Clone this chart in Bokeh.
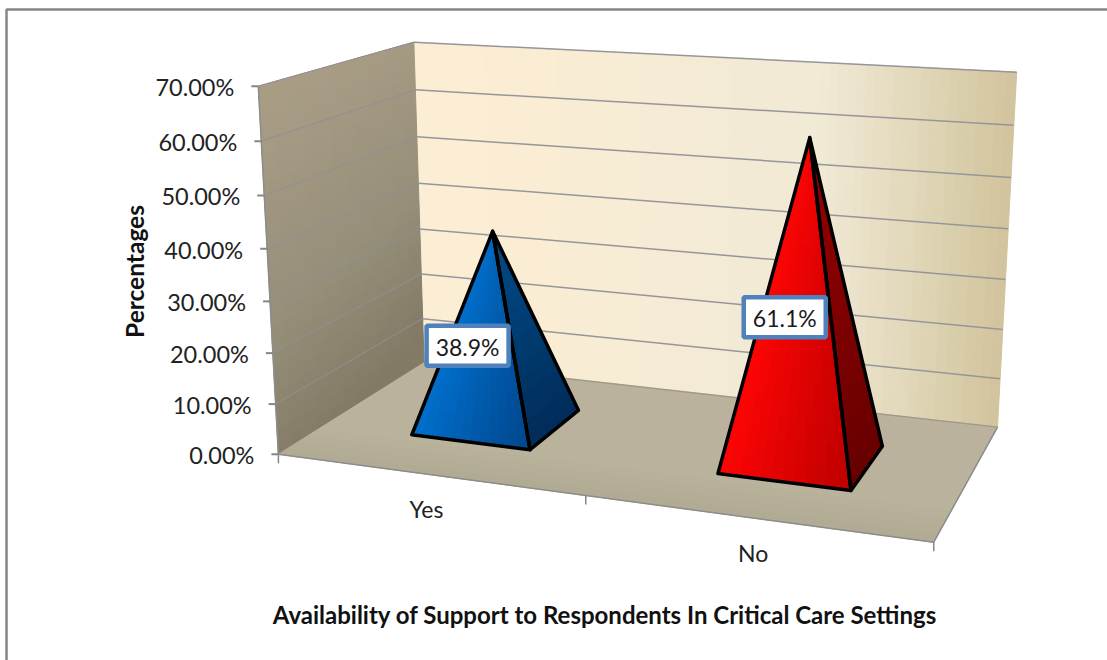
import numpy as np
from bokeh.core.properties import value
from bokeh.embed import file_html
from bokeh.plotting import figure
from bokeh.resources import INLINE

categories = ["Yes", "No"]
shares = [38.9, 61.1]
share_labels = ["38.9%", "61.1%"]
tick_values = [0, 10, 20, 30, 40, 50, 60, 70]
tick_labels = ["0.00%", "10.00%", "20.00%", "30.00%", "40.00%", "50.00%", "60.00%", "70.00%"]
y_title = "Percentages"
x_title = "Availability of Support to Respondents In Critical Care Settings"

# Camera calibration: (category position, depth, value) -> page position.
CAMERA = [
    (0, 0, 0, 278, 453), (0, 0, 30, 270, 302), (0, 0, 70, 257, 85), (1, 0, 0, 585.5, 495),
    (2, 0, 0, 933, 542), (0, 1, 0, 423, 362), (0, 1, 30, 419, 229), (0, 1, 70, 413.6, 41.7),
    (2, 1, 0, 997, 427), (2, 1, 30, 1005.4, 278), (2, 1, 70, 1015.7, 72),
    (0, 0, 50, 264, 195), (0, 1, 50, 417, 136), (2, 1, 50, 1010.7, 177),
]


def fit_camera(rows):
    eqs = []
    for x, d, v, px, py in rows:
        q = [x / 2, d, v / 70, 1]
        u, w = px / 1000, py / 1000
        eqs.append(q + [0, 0, 0, 0] + [-u * c for c in q])
        eqs.append([0, 0, 0, 0] + q + [-w * c for c in q])
    return np.linalg.svd(np.array(eqs))[2][-1].reshape(3, 4)


M = fit_camera(CAMERA)


def proj(x, d, v):
    a, b, c = M @ np.array([x / 2, d, v / 70, 1])
    return 1000 * a / c, 1000 * b / c


def mix(stops, t):
    t = min(max(t, 0), 1)
    pos = [s[0] for s in stops]
    r, g, b = (np.interp(t, pos, [s[1][i] for s in stops]) for i in range(3))
    return f"#{int(r):02x}{int(g):02x}{int(b):02x}"


p = figure(width=1107, height=660, x_range=(0, 1107), y_range=(660, 0),
           x_axis_type=None, y_axis_type=None, toolbar_location=None,
           output_backend="svg", min_border=0, outline_line_color=None)
p.grid.visible = False


def shade(a, b, c, e, nu, nw, colour):
    """Fill the quad a-b-c-e (3D corners) with small cells coloured by colour(u, w)."""
    a, b, c, e = map(np.array, (a, b, c, e))
    xs, ys, cs = [], [], []
    for i in range(nu):
        for j in range(nw):
            u0, u1 = i / nu, (i + 1) / nu
            w0, w1 = j / nw, (j + 1) / nw
            pts = [(u0, w0), (u1, w0), (u1, w1), (u0, w1)]
            cell = [proj(*((1 - w) * ((1 - u) * a + u * b) + w * ((1 - u) * e + u * c))) for u, w in pts]
            xs.append([q[0] for q in cell])
            ys.append([q[1] for q in cell])
            cs.append(colour((u0 + u1) / 2, (w0 + w1) / 2))
    p.patches(xs, ys, fill_color=cs, line_color=cs, line_width=1)


def edge(q0, q1, color="#8c8c8c", width=1.5):
    a, b = proj(*q0), proj(*q1)
    p.line([a[0], b[0]], [a[1], b[1]], line_color=color, line_width=width)


# Outer chart frame
p.line([6, 6, 1107], [660, 9, 9], line_color="#868686", line_width=2.5)

# Back wall, side wall, floor
wall = [(0, (253, 239, 212)), (0.25, (250, 237, 212)), (0.7, (241, 234, 214)),
        (0.85, (226, 216, 186)), (1, (209, 195, 157))]
shade((0, 1, 0), (2, 1, 0), (2, 1, 70), (0, 1, 70), 70, 1, lambda u, w: mix(wall, u))
side = [(0, (130, 122, 100)), (0.45, (150, 143, 122)), (1, (168, 156, 133))]
shade((0, 0, 0), (0, 1, 0), (0, 1, 70), (0, 0, 70), 12, 28,
      lambda u, w: mix(side, w + 0.18 * (0.5 - u)))
ground = [(0, (177, 170, 148)), (0.5, (187, 180, 157)), (1, (186, 178, 156))]
shade((0, 0, 0), (2, 0, 0), (2, 1, 0), (0, 1, 0), 6, 16, lambda u, w: mix(ground, w * 1.6))

# Gridlines over the two walls
for v in tick_values[1:]:
    edge((0, 1, v), (2, 1, v), "#96969a", 1.5)
    edge((0, 0, v), (0, 1, v), "#8f8f96", 1)
edge((0, 1, 0), (2, 1, 0), "#a09a88", 1.5)

# Axis edges and tick marks
edge((0, 0, 0), (0, 0, 70))
edge((0, 0, 0), (2, 0, 0))
edge((2, 0, 0), (2, 1, 0))
for v, label in zip(tick_values, tick_labels):
    x0, y0 = proj(0, 0, v)
    p.line([x0 - 7, x0], [y0, y0], line_color="#868686", line_width=2)
    p.text([x0 - 24], [y0 + 1], text=[label], text_font=value("Lato"), text_font_size="23.5px",
           text_align="right", text_baseline="middle", text_color="#222222")
for cx in (0, 1, 2):
    x0, y0 = proj(cx, 0, 0)
    p.line([x0, x0], [y0, y0 + 9], line_color="#868686", line_width=1.5)

# Pyramids
HALF_W, HALF_D = 0.2, 0.2
styles = {
    "Yes": ((0, 112, 205), (0, 70, 140), (0, 76, 136), (0, 44, 90)),
    "No": ((255, 5, 5), (190, 0, 0), (152, 0, 0), (104, 0, 0)),
}
for i, (name, val, text) in enumerate(zip(categories, shares, share_labels)):
    cx = i + 0.5
    fl = (cx - HALF_W, 0.5 - HALF_D, 0)
    fr = (cx + HALF_W, 0.5 - HALF_D, 0)
    br = (cx + HALF_W, 0.5 + HALF_D, 0)
    tip = (cx, 0.5, val)
    c0, c1, s0, s1 = styles[name]
    shade(fl, fr, tip, tip, 12, 16, lambda u, w: mix([(0, c0), (1, c1)], u * (1 - 0.75 * w)))
    shade(fr, br, tip, tip, 6, 16, lambda u, w: mix([(0, s1), (1, s0)], w))
    for face in ((fl, fr, tip), (fr, br, tip)):
        pts = [proj(*q) for q in face]
        p.patch([q[0] for q in pts], [q[1] for q in pts], fill_color=None,
                line_color="#000000", line_width=3.5, line_join="round")

    # Value label box hangs below the tip by an amount that follows the value
    ax, ay = proj(*tip)
    bx, by = ax - 25, ay + 2.94 * val
    p.rect([bx], [by], width=82, height=40, fill_color="#ffffff",
           line_color="#4f81bd", line_width=4.5)
    p.text([bx], [by + 1], text=[text], text_font=value("Lato"), text_font_size="23px",
           text_align="center", text_baseline="middle", text_color="#1a1a1a")

    # Category label under the floor
    lx, ly = proj(cx, 0, 0)
    p.text([lx - 1], [ly + 35], text=[name], text_font=value("Lato"), text_font_size="23px",
           text_align="center", text_baseline="middle", text_color="#222222")

# Axis titles
p.text([134], [271], text=[y_title], angle=np.pi / 2, text_font=value("Lato"),
       text_font_size="24.5px", text_font_style="bold", text_align="center",
       text_baseline="middle", text_color="#111111")
p.text([604.5], [614], text=[x_title], text_font=value("Lato"), text_font_size="24px",
       text_font_style="bold", text_align="center", text_baseline="middle", text_color="#111111")

open("out.html", "w").write(file_html(p, INLINE))
